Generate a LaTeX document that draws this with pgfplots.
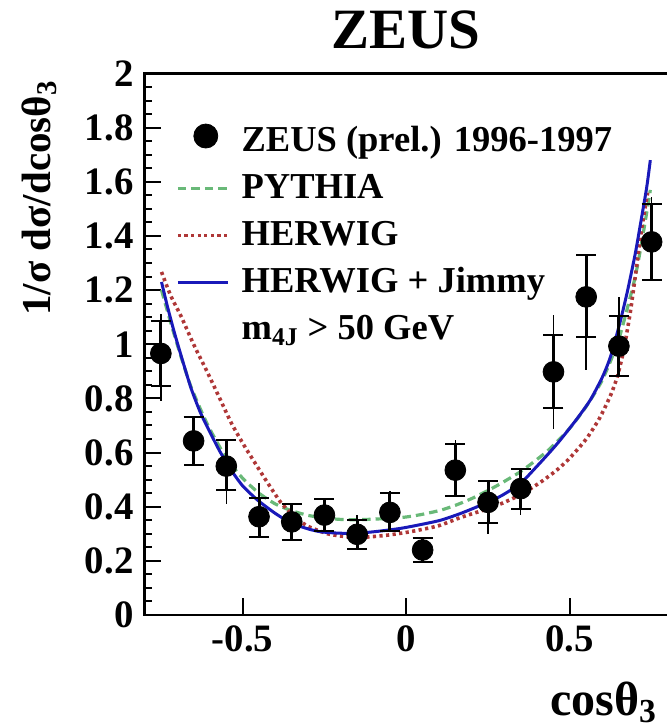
\documentclass[border=0pt]{standalone}
\usepackage{pgfplots}
\pgfplotsset{compat=1.18}
\usepackage{pgfplotstable}
\usepackage{fontspec}
\setmainfont{Liberation Serif}

\definecolor{pyg}{RGB}{105,185,120}
\definecolor{herr}{RGB}{175,55,55}
\definecolor{jimb}{RGB}{25,25,185}

\pgfplotsset{
  markleg/.style={legend image code/.code={\draw[##1] plot coordinates {(14pt,3pt)};}},
  lineleg/.style={legend image code/.code={\draw[##1] (0pt,0.5pt) -- (25pt,0.5pt);}},
}

\pgfplotstableread{
x y sp sm tp tm
-0.75 0.966 0.12 0.12 0.144 0.176
-0.65 0.643 0.09 0.09 0.09 0.09
-0.55 0.55 0.096 0.09 0.096 0.14
-0.45 0.363 0.07 0.074 0.124 0.074
-0.35 0.344 0.067 0.067 0.067 0.067
-0.25 0.369 0.06 0.06 0.06 0.06
-0.15 0.298 0.054 0.054 0.07 0.054
-0.05 0.379 0.07 0.07 0.08 0.07
0.05 0.24 0.045 0.045 0.045 0.045
0.15 0.535 0.097 0.097 0.113 0.097
0.25 0.416 0.078 0.078 0.078 0.116
0.35 0.467 0.074 0.074 0.074 0.098
0.45 0.898 0.135 0.135 0.21 0.21
0.55 1.175 0.153 0.148 0.153 0.27
0.65 0.993 0.11 0.11 0.18 0.11
0.75 1.378 0.14 0.14 0.165 0.14
}\zeusdata

\pgfplotstableread{
x y
-0.748 1.2
-0.72 1.08
-0.69 0.96
-0.657 0.84
-0.606 0.70
-0.55 0.58
-0.50 0.505
-0.45 0.45
-0.40 0.41
-0.35 0.385
-0.30 0.368
-0.25 0.358
-0.20 0.353
-0.15 0.352
-0.10 0.354
-0.05 0.357
0.0 0.362
0.05 0.372
0.105 0.387
0.15 0.405
0.20 0.43
0.25 0.46
0.288 0.485
0.35 0.53
0.40 0.575
0.44 0.615
0.50 0.69
0.55 0.77
0.60 0.87
0.65 1.02
0.70 1.25
0.73 1.45
0.746 1.57
}\pythia

\pgfplotstableread{
x y
-0.748 1.267
-0.72 1.18
-0.687 1.10
-0.65 1.00
-0.606 0.892
-0.57 0.80
-0.535 0.71
-0.50 0.635
-0.464 0.565
-0.43 0.50
-0.383 0.415
-0.34 0.362
-0.301 0.328
-0.24 0.30
-0.18 0.289
-0.12 0.288
-0.057 0.295
0.0 0.305
0.044 0.315
0.10 0.33
0.166 0.36
0.23 0.385
0.288 0.41
0.35 0.445
0.41 0.49
0.46 0.535
0.50 0.58
0.55 0.65
0.59 0.725
0.624 0.81
0.645 0.88
0.665 0.98
0.685 1.12
0.70 1.25
0.72 1.43
0.738 1.56
}\herwig

\pgfplotstableread{
x y
-0.748 1.23
-0.73 1.14
-0.708 1.04
-0.68 0.925
-0.657 0.835
-0.63 0.75
-0.606 0.69
-0.57 0.605
-0.535 0.535
-0.50 0.477
-0.454 0.424
-0.40 0.375
-0.352 0.34
-0.30 0.318
-0.26 0.307
-0.2 0.302
-0.139 0.303
-0.08 0.31
-0.017 0.32
0.044 0.334
0.105 0.35
0.166 0.375
0.227 0.405
0.29 0.44
0.349 0.486
0.40 0.55
0.44 0.603
0.472 0.648
0.522 0.725
0.563 0.795
0.60 0.88
0.624 0.953
0.65 1.065
0.675 1.19
0.70 1.335
0.716 1.445
0.735 1.58
0.746 1.68
}\jimmy

\begin{document}
\begin{tikzpicture}
\begin{axis}[
  name=ax, at={(0,0)}, anchor=south west,
  scale only axis, width=261.75pt, height=270.75pt,
  xmin=-0.8, xmax=0.8, ymin=0, ymax=2,
  xtick={-0.5,0,0.5},
  ytick={0,0.2,0.4,0.6,0.8,1,1.2,1.4,1.6,1.8,2},
  minor y tick num=3,
  minor x tick num=0,
  tick pos=left,
  major tick length=8.5pt, minor tick length=4pt,
  every tick/.style={black, line width=1pt},
  axis line style={line width=1.2pt},
  /pgf/number format/assume math mode=true,
  tick label style={font=\bfseries\fontsize{19.4}{20}\selectfont},
  xticklabel style={yshift=-2pt},
  yticklabel style={xshift=-2pt},
  title={ZEUS},
  title style={font=\bfseries\fontsize{28.5}{30}\selectfont, at={(0.5,1)}, anchor=base, yshift=6.5pt},
  ylabel={1/σ dσ/dcosθ\textsubscript{3}},
  ylabel style={font=\bfseries\fontsize{20.5}{21}\selectfont, at={(axis description cs:-0.1805,1)}, anchor=base east},
  xlabel={cosθ\textsubscript{3}},
  xlabel style={font=\bfseries\fontsize{24}{25}\selectfont, at={(axis description cs:1,0)}, anchor=base east, yshift=-50pt, xshift=-2pt},
  lineleg,
  legend cell align=left,
  legend style={draw=none, fill=none, inner sep=0pt, outer sep=0pt,
    at={(rel axis cs:0.0602,0.9067)}, anchor=north west,
    row sep=6.6pt,
    /tikz/every odd column/.append style={column sep=6pt},
    nodes={inner sep=0pt, text height=13pt, text depth=4pt, font=\bfseries\fontsize{18.25}{19}\selectfont}},
]
\addlegendimage{black, only marks, mark=*, mark size=6pt, markleg}
\addlegendentry{ZEUS (prel.) 1996-1997}
\addlegendimage{pyg, line width=1.6pt, dash pattern=on 4.25pt off 2.5pt, lineleg}
\addlegendentry{PYTHIA}
\addlegendimage{herr, line width=1.8pt, dash pattern=on 1.6pt off 1.7pt, lineleg}
\addlegendentry{HERWIG}
\addlegendimage{jimb, line width=1.5pt, lineleg}
\addlegendentry{HERWIG + Jimmy}
\addlegendimage{empty legend}
\addlegendentry{m\textsubscript{4J} > 50 GeV}

\addplot[forget plot, pyg, line width=1.6pt, dash pattern=on 4.25pt off 2.5pt, smooth, tension=0.4] table[x=x,y=y] {\pythia};
\addplot[forget plot, herr, line width=1.8pt, dash pattern=on 1.6pt off 1.7pt, smooth, tension=0.4] table[x=x,y=y] {\herwig};
\addplot[forget plot, jimb, line width=1.5pt, smooth, tension=0.4] table[x=x,y=y] {\jimmy};

\addplot[forget plot, only marks, mark=none, black,
  error bars/.cd, y dir=both, y explicit, error mark=none,
  error bar style={line width=0.7pt, black}]
  table[x=x, y=y, y error plus=tp, y error minus=tm] {\zeusdata};
\addplot[forget plot, only marks, mark=*, mark size=5.2pt, black,
  error bars/.cd, y dir=both, y explicit,
  error mark options={black, line width=1pt, mark size=5pt, rotate=90},
  error bar style={line width=1.5pt, black}]
  table[x=x, y=y, y error plus=sp, y error minus=sm] {\zeusdata};
\end{axis}
\pgfresetboundingbox
\path (ax.south west) ++(-72.25pt,-56pt) rectangle ++(333.5pt,363.5pt);
\end{tikzpicture}
\end{document}
